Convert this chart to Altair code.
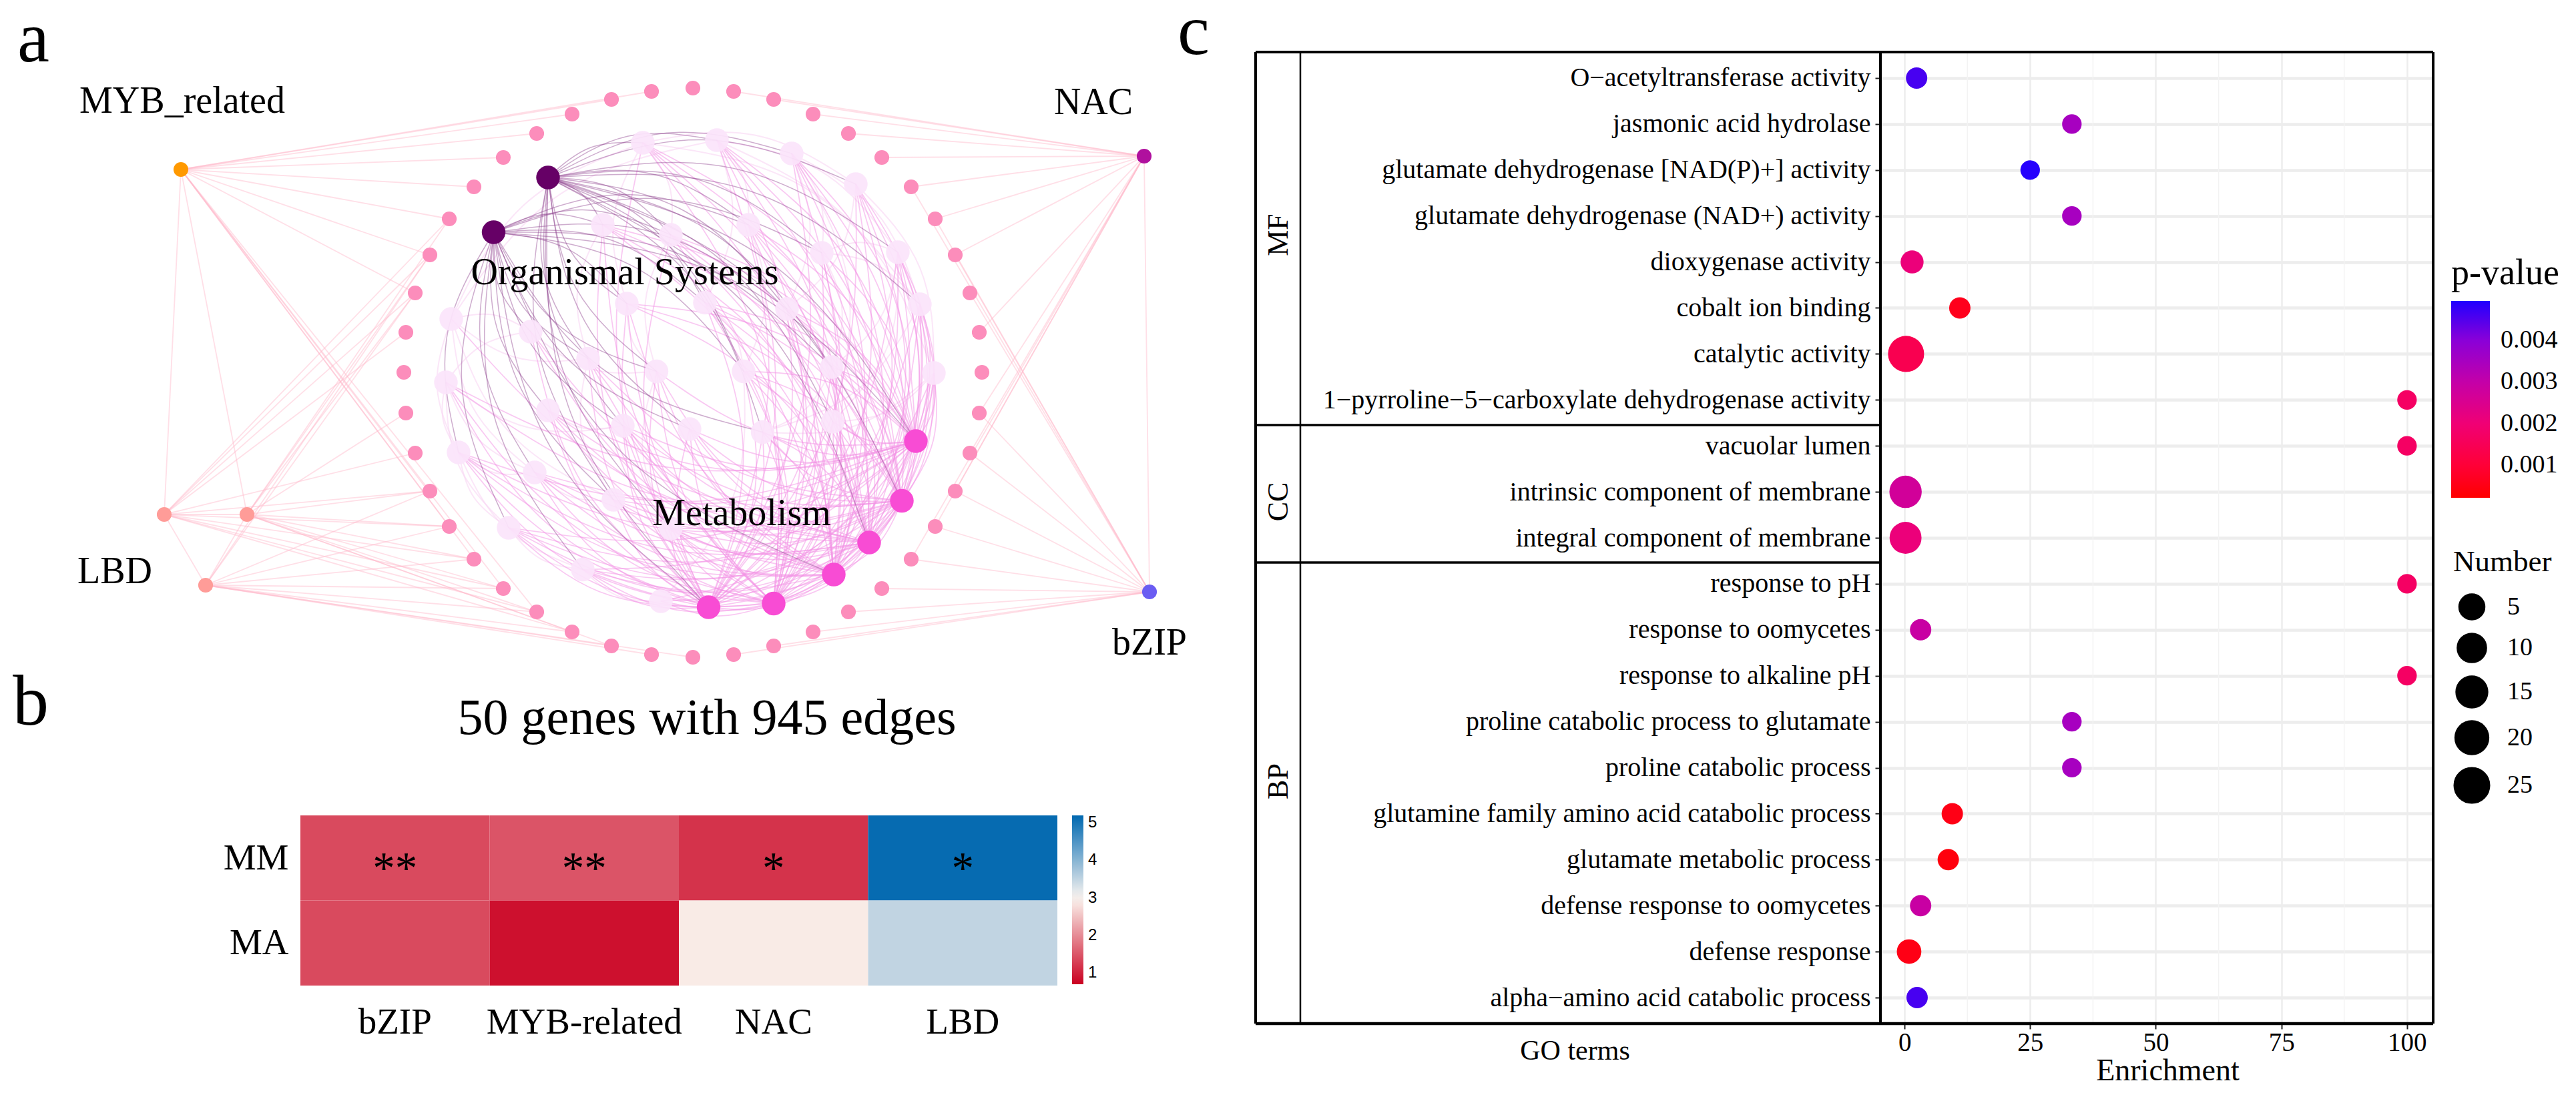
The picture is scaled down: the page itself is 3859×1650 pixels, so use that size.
import altair as alt
import pandas as pd

SERIF = "Liberation Serif"

# ---------- panel a: network, positions ----------
ring_x = [1038, 976, 916, 857, 804, 754, 710, 673, 644, 622, 608, 605, 608, 622, 644, 673, 710, 754, 804, 857, 916, 976,
          1038, 1099, 1159, 1218, 1271, 1321, 1365, 1401, 1431, 1453, 1467, 1471, 1467, 1453, 1431, 1401, 1365, 1321, 1271, 1218, 1159, 1099]
ring_y = [132, 137, 149, 171, 200, 236, 280, 328, 382, 439, 498, 558, 619, 679, 736, 789, 838, 882, 917, 947, 968, 981,
          985, 981, 968, 947, 917, 882, 838, 789, 736, 679, 619, 558, 498, 439, 382, 328, 280, 236, 200, 171, 149, 137]
tf_names = ["MYB", "LBD1", "LBD2", "LBD3", "NAC", "bZIP"]
tf_x = [271, 246, 370, 308, 1714, 1722]
tf_y = [254, 771, 771, 877, 234, 887]
tf_colors = ["#ff9900", "#ff9c98", "#ff9c98", "#ff9c98", "#b0109e", "#6a5cf2"]
dark_x = [821, 739.5]
dark_y = [266, 348]
mag_x = [1372, 1351, 1302, 1249, 1159, 1061.5]
mag_y = [661, 750.5, 813, 861, 904.5, 910]
light_x = [963, 1074, 1186, 1282, 1345, 1378, 1399, 1247.5, 1142.5, 1033, 933, 821, 801, 687, 668, 676, 795,
           903, 1005, 1121, 1231, 1179, 1056, 939, 881, 983.5, 1114, 1246, 919, 762, 873, 990, 1005]
light_y = [214, 210, 230, 276, 378, 456, 559, 632, 647.6, 643, 638, 615, 708, 678, 573, 478, 497,
           337, 352, 337, 379, 463, 453.5, 455, 537.5, 556.5, 556.5, 550, 749, 791, 853.5, 901, 792]

# ring neighbours of each transcription factor (indices into ring_*)
tf_targets = {
    "MYB": [1, 2, 3, 4, 5, 6, 7, 8, 9, 14, 15, 16, 17, 18],
    "LBD1": [7, 8, 9, 10, 13, 14, 15, 16, 17, 18, 19],
    "LBD2": [7, 8, 9, 12, 14, 15, 16, 17, 18, 19, 20],
    "LBD3": [8, 9, 14, 15, 16, 17, 18, 19, 20, 21, 22],
    "NAC": [43, 42, 41, 40, 39, 38, 37, 36, 34, 32, 31, 30, 29, 28],
    "bZIP": [23, 24, 25, 26, 27, 28, 29, 30, 31, 32, 35, 36, 37, 38],
}
tf_extra = [("MYB", "LBD1"), ("MYB", "LBD2"), ("LBD1", "LBD2"), ("LBD1", "LBD3"), ("LBD2", "LBD3"), ("NAC", "bZIP")]

dark_edges = {
    0: [0, 1, 2, 3, 4, 5, 7, 8, 9, 17, 18, 19, 20, 21, 22, 23, 24, 25, 26, 27, 10, 28, 32],
    1: [11, 12, 13, 16, 17, 18, 19, 20, 21, 22, 23, 24, 25, 26, 28, 29, 30, 10, 9, 8, 27],
}
dark_mag = {0: [0, 1, 2, 5], 1: [0, 3, 5]}
mag_edges = {
    0: [0, 1, 2, 3, 4, 5, 6, 7, 8, 9, 10, 11, 12, 13, 14, 17, 18, 19, 20, 21, 22, 23, 25, 26, 27, 28, 29, 30, 31, 32],
    1: [0, 1, 2, 3, 4, 5, 6, 7, 8, 9, 10, 11, 12, 13, 14, 17, 18, 19, 21, 22, 23, 24, 26, 27, 28, 29, 30, 31, 32],
    2: [0, 1, 2, 3, 4, 5, 6, 7, 8, 9, 10, 11, 12, 13, 15, 16, 17, 18, 19, 22, 23, 24, 25, 26, 27, 28, 29, 30, 32],
    3: [0, 1, 2, 3, 4, 5, 6, 7, 8, 9, 10, 11, 12, 13, 16, 17, 18, 19, 20, 21, 22, 23, 24, 25, 26, 27, 28, 29, 30, 31, 32],
    4: [0, 1, 2, 3, 4, 5, 6, 7, 8, 9, 10, 12, 13, 14, 17, 18, 19, 20, 21, 22, 23, 24, 25, 26, 27, 28, 29, 30, 31, 32],
    5: [0, 1, 2, 3, 4, 5, 6, 7, 8, 9, 10, 11, 12, 13, 14, 16, 17, 18, 19, 20, 21, 22, 23, 24, 25, 26, 27, 28, 29, 30, 32],
}
mag_mag = [(0, 2), (0, 3), (0, 4), (0, 5), (1, 3), (1, 4), (1, 5), (2, 4), (2, 5), (3, 5)]
light_pairs = [(0, 3), (0, 5), (1, 4), (1, 6), (2, 5), (2, 7), (3, 6), (3, 21), (4, 7), (4, 27), (5, 8), (6, 8), (14, 10),
               (14, 13), (15, 13), (15, 12), (15, 28), (13, 29), (14, 29), (16, 25), (17, 24), (18, 25), (19, 26),
               (20, 27), (21, 27), (22, 26), (23, 25), (24, 28), (25, 32), (26, 31), (27, 8), (29, 30), (30, 31),
               (12, 28), (11, 10), (0, 18), (1, 19), (2, 20), (14, 16), (13, 12), (0, 23), (1, 22), (2, 21), (15, 16),
               (15, 24), (14, 12), (13, 30), (0, 15), (1, 15), (6, 7), (5, 20), (4, 20)]

panel_letters = ["a", "b", "c"]
letter_x = [50, 46, 1788]
letter_y = [60, 1054, 49]
net_labels = ["MYB_related", "NAC", "LBD", "bZIP", "Organismal Systems", "Metabolism", "50 genes with 945 edges"]
net_label_x = [273, 1638, 172, 1722, 936, 1111, 1059]
net_label_y = [152, 154, 857, 964, 409, 770, 1077]
net_label_size = [56, 56, 56, 56, 56, 56, 76]

CX, CY = 1038, 558
PLOT_L, PLOT_R, PLOT_T, PLOT_B = 450, 1858, 78, 1477
TOP_ANCHOR = -100  # bounds of the tallest text, paid back by the negative top padding


def curved(edges, k):
    rows = []
    for eid, (x0, y0, x1, y1) in enumerate(edges):
        dx, dy = x1 - x0, y1 - y0
        mx, my = (x0 + x1) / 2, (y0 + y1) / 2
        px, py = -dy * k, dx * k
        if px * (mx - CX) + py * (my - CY) < 0:
            px, py = -px, -py
        rows += [dict(edge=eid, pt=0, x=x0, y=y0), dict(edge=eid, pt=1, x=mx + px, y=my + py), dict(edge=eid, pt=2, x=x1, y=y1)]
    return pd.DataFrame(rows)


X = alt.X("x:Q", axis=None, scale=alt.Scale(domain=[PLOT_L, PLOT_R], nice=False, zero=False))
Y = alt.Y("y:Q", axis=None, scale=alt.Scale(domain=[PLOT_B, PLOT_T], nice=False, zero=False))

tf_pos = {n: (x, y) for n, x, y in zip(tf_names, tf_x, tf_y)}
tf_rows = []
for n, targets in tf_targets.items():
    for t in targets:
        tf_rows.append((tf_pos[n][0], tf_pos[n][1], ring_x[t], ring_y[t]))
for a_, b_ in tf_extra:
    tf_rows.append((*tf_pos[a_], *tf_pos[b_]))
tf_df = pd.DataFrame([dict(edge=i, pt=p, x=r[2 * p], y=r[2 * p + 1]) for i, r in enumerate(tf_rows) for p in (0, 1)])

light_e = [(light_x[a_], light_y[a_], light_x[b_], light_y[b_]) for a_, b_ in light_pairs]
mag_e = [(mag_x[m], mag_y[m], light_x[t], light_y[t]) for m, ts in mag_edges.items() for t in ts]
mag_e += [(mag_x[a_], mag_y[a_], mag_x[b_], mag_y[b_]) for a_, b_ in mag_mag]
dark_e = [(dark_x[d], dark_y[d], light_x[t], light_y[t]) for d, ts in dark_edges.items() for t in ts]
dark_e += [(dark_x[d], dark_y[d], mag_x[t], mag_y[t]) for d, ts in dark_mag.items() for t in ts]


def edge_layer(df, color, width, opacity, interp):
    return alt.Chart(df).mark_line(color=color, strokeWidth=width, opacity=opacity, interpolate=interp).encode(
        x=X, y=Y, detail="edge:N", order="pt:Q")


def node_layer(xs, ys, color, diameter, opacity=1.0):
    df = pd.DataFrame({"x": xs, "y": ys})
    return alt.Chart(df).mark_circle(color=color, size=3.1416 / 4 * diameter ** 2, opacity=opacity).encode(x=X, y=Y)


tf_nodes = alt.Chart(pd.DataFrame({"x": tf_x, "y": tf_y, "c": tf_colors})).mark_circle(
    size=3.1416 / 4 * 25 ** 2, opacity=1).encode(x=X, y=Y, color=alt.Color("c:N", scale=None))
net_text = alt.Chart(pd.DataFrame({"t": net_labels, "x": net_label_x, "y": net_label_y, "s": net_label_size})).mark_text(
    font=SERIF, color="black", baseline="middle", align="center").encode(
    x=X, y=Y, text="t:N", size=alt.Size("s:Q", scale=None))
letters = alt.Chart(pd.DataFrame({"t": panel_letters, "x": letter_x, "y": letter_y})).mark_text(
    font=SERIF, color="black", baseline="middle", align="center", fontSize=108).encode(x=X, y=Y, text="t:N")

network = alt.layer(
    edge_layer(tf_df, "#ffb9c9", 1.8, 0.45, "linear"),
    edge_layer(curved(light_e, 0.2), "#f8d6f4", 2, 0.6, "basis"),
    edge_layer(curved(mag_e, 0.18), "#f392e6", 1.7, 0.5, "basis"),
    edge_layer(curved(dark_e, 0.2), "#8b3c8b", 1.5, 0.42, "basis"),
    node_layer(ring_x, ring_y, "#fc8dbb", 25),
    node_layer(light_x, light_y, "#fbe4fb", 40, 0.93),
    node_layer(mag_x, mag_y, "#f84cd4", 40),
    node_layer(dark_x, dark_y, "#660066", 40),
    tf_nodes, net_text, letters,
)

# ---------- panel b: heat map ----------
heat_cols = ["bZIP", "MYB-related", "NAC", "LBD"]
heat_rows = ["MM", "MA"]
heat_mm = [1.39, 1.49, 1.18, 5.15]
heat_ma = [1.39, 0.85, 2.9, 3.5]
heat_star = ["**", "**", "*", "*"]
heat_df = pd.DataFrame({"col": heat_cols * 2, "row": ["MM"] * 4 + ["MA"] * 4, "v": heat_mm + heat_ma,
                        "star": heat_star + [""] * 4})
HW = 1134
HY0, HY1 = 1222 - PLOT_T, PLOT_B - PLOT_T
hx_scale = alt.Scale(range=[0, HW], paddingInner=0, paddingOuter=0)
hy_scale = alt.Scale(range=[HY0, HY1], paddingInner=0, paddingOuter=0)
hx = alt.X("col:N", sort=heat_cols, title=None, scale=hx_scale,
           axis=alt.Axis(labelAngle=0, labelFont=SERIF, labelFontSize=55, labelColor="black", labelLimit=600,
                         ticks=False, domain=False, labelPadding=28))
hy = alt.Y("row:N", sort=heat_rows, title=None, scale=hy_scale,
           axis=alt.Axis(labelFont=SERIF, labelFontSize=55, labelColor="black", ticks=False, domain=False, labelPadding=18))
heat = alt.Chart(heat_df).mark_rect().encode(
    x=hx, y=hy,
    color=alt.Color("v:Q", title=None, scale=alt.Scale(domain=[0.7, 2.9, 3.1, 5.2], interpolate="rgb",
                                                       range=["#ca0020", "#f9ebe6", "#eeeeee", "#0068b0"]),
                    legend=alt.Legend(orient="none", legendX=1156, legendY=HY0, gradientLength=253, gradientThickness=17,
                                      values=[1, 2, 3, 4, 5], labelFont="Liberation Sans", labelFontSize=24,
                                      labelColor="black", labelOffset=7)))
stars = alt.Chart(heat_df).mark_text(font=SERIF, fontSize=67, color="black", baseline="middle", dy=17).encode(
    x=alt.X("col:N", sort=heat_cols, title=None, scale=hx_scale, axis=None),
    y=alt.Y("row:N", sort=heat_rows, title=None, scale=hy_scale, axis=None), text="star:N")
left_anchor = alt.Chart(alt.Data(values=[{}])).mark_rule(opacity=0).encode(
    x=alt.value(-442), y=alt.value(TOP_ANCHOR), y2=alt.value(TOP_ANCHOR + 10))

panel_left = alt.layer(network, heat, stars, left_anchor).resolve_scale(
    x="independent", y="independent", color="independent", size="independent").properties(
    width=PLOT_R - PLOT_L, height=PLOT_B - PLOT_T)

# ---------- panel c: GO dot plot ----------
go_terms = ["O\u2212acetyltransferase activity", "jasmonic acid hydrolase", "glutamate dehydrogenase [NAD(P)+] activity",
            "glutamate dehydrogenase (NAD+) activity", "dioxygenase activity", "cobalt ion binding", "catalytic activity",
            "1\u2212pyrroline\u22125\u2212carboxylate dehydrogenase activity", "vacuolar lumen",
            "intrinsic component of membrane", "integral component of membrane", "response to pH", "response to oomycetes",
            "response to alkaline pH", "proline catabolic process to glutamate", "proline catabolic process",
            "glutamine family amino acid catabolic process", "glutamate metabolic process", "defense response to oomycetes",
            "defense response", "alpha\u2212amino acid catabolic process"]
go_enrich = [2.4, 33.3, 25, 33.3, 1.5, 11, 0.3, 100, 100, 0.2, 0.2, 100, 3.2, 100, 33.3, 33.3, 9.5, 8.7, 3.2, 0.9, 2.5]
go_p = [0.0046, 0.0035, 0.0049, 0.0035, 0.0021, 0.0006, 0.0014, 0.0017, 0.0017, 0.0027, 0.0021, 0.0017, 0.0029, 0.0017,
        0.0035, 0.0035, 0.0005, 0.0004, 0.0029, 0.0005, 0.0046]
go_n = [2, 1, 1, 1, 3, 2, 26, 1, 1, 16, 15, 1, 2, 1, 1, 1, 2, 2, 2, 4, 2]
minor_x = [12.5, 37.5, 62.5, 87.5]
go_df = pd.DataFrame({"term": go_terms, "enrich": go_enrich, "p": go_p, "n": go_n})

cx = alt.X("enrich:Q", scale=alt.Scale(domain=[-4.8, 105.2], nice=False, zero=False),
           axis=alt.Axis(values=[0, 25, 50, 75, 100], grid=True, gridColor="#ededed", gridWidth=2.5, domain=False,
                         tickSize=8, tickWidth=2, tickColor="#222222", labelFont=SERIF, labelFontSize=39, labelColor="black",
                         labelPadding=1, title="Enrichment", titleFont=SERIF, titleFontSize=46, titleFontWeight="normal",
                         titleColor="black", titleX=430, titleY=70, titleBaseline="middle"))
cy = alt.Y("term:N", sort=go_terms, title=None, scale=alt.Scale(type="point", padding=0.566),
           axis=alt.Axis(grid=True, gridColor="#ededed", gridWidth=4.5, domain=False, tickSize=8, tickWidth=2,
                         tickColor="#222222", labelFont=SERIF, labelFontSize=40, labelColor="black", labelPadding=7,
                         labelLimit=1200))
minor = alt.Chart(pd.DataFrame({"enrich": minor_x})).mark_rule(color="#f3f3f3", strokeWidth=1.5).encode(x=cx)
dots = alt.Chart(go_df).mark_circle(opacity=1).encode(
    x=cx, y=cy,
    color=alt.Color("p:Q", title="p-value",
                    scale=alt.Scale(domain=[0.00021, 0.001, 0.002, 0.003, 0.004, 0.00495],
                                    range=["#ff0000", "#ff0038", "#f00075", "#c400a8", "#8a00d8", "#2000ff"], interpolate="rgb"),
                    legend=alt.Legend(orient="none", legendX=855, legendY=305, gradientLength=295, gradientThickness=58,
                                      values=[0.001, 0.002, 0.003, 0.004], format=".3f", labelFont=SERIF, labelFontSize=38,
                                      labelColor="black", labelOffset=16, titleFont=SERIF, titleFontSize=54,
                                      titleFontWeight="normal", titleColor="black", titlePadding=14)),
    size=alt.Size("n:Q", title="Number",
                  scale=alt.Scale(domain=[1, 5, 10, 15, 20, 25, 26], range=[855, 1521, 1948, 2290, 2579, 2865, 2922]),
                  legend=alt.Legend(orient="none", legendX=858, legendY=742, values=[5, 10, 15, 20, 25], symbolType="circle",
                                    symbolFillColor="black", symbolStrokeColor="black", symbolOpacity=1, labelFont=SERIF,
                                    labelFontSize=38, labelColor="black", labelOffset=25, rowPadding=13, titleFont=SERIF,
                                    titleFontSize=45, titleFontWeight="normal", titleColor="black", titlePadding=24)),
)


def frame(x1, x2, y1, y2, w, color="black"):
    return alt.Chart(alt.Data(values=[{}])).mark_rule(color=color, strokeWidth=w).encode(
        x=alt.value(x1), x2=alt.value(x2), y=alt.value(y1), y2=alt.value(y2))


def strip(label, y):
    return alt.Chart(alt.Data(values=[{}])).mark_text(text=label, font=SERIF, fontSize=44, angle=270, color="black",
                                                      align="center", baseline="middle").encode(
        x=alt.value(-901), y=alt.value(y))


frames = [frame(-936, 828, 0, 0, 4), frame(-936, 828, 1456, 1456, 4.5), frame(-936, -936, 0, 1456, 4),
          frame(-869, -869, 0, 1456, 2.5), frame(0, 0, 0, 1456, 4), frame(828, 828, 0, 1456, 4),
          frame(-936, 0, 559, 559, 3.5), frame(-936, 0, 765, 765, 3.5)]
# white tick marks on the p-value colour bar
bar_ticks = []
for ty in [433, 495, 558, 620]:
    bar_ticks += [frame(855, 867, ty, ty, 2, "#ffdcff"), frame(901, 913, ty, ty, 2, "#ffdcff")]
strips = [strip("MF", 274), strip("CC", 674), strip("BP", 1093)]
go_label = alt.Chart(alt.Data(values=[{}])).mark_text(text="GO terms", font=SERIF, fontSize=42, color="black",
                                                      align="center", baseline="middle").encode(
    x=alt.value(-457.5), y=alt.value(1497))
c_anchor = alt.Chart(alt.Data(values=[{}])).mark_rule(opacity=0).encode(
    x=alt.value(0), y=alt.value(TOP_ANCHOR), y2=alt.value(TOP_ANCHOR + 10))

panel_c = alt.layer(minor, dots, *frames, *bar_ticks, *strips, go_label, c_anchor).resolve_scale(
    color="independent", size="independent").properties(width=828, height=1456)

chart = alt.hconcat(panel_left, panel_c, spacing=20).configure_view(stroke=None).properties(
    padding={"left": 0, "top": PLOT_T + TOP_ANCHOR - 8, "right": 0, "bottom": 0}, background="white")

chart.save("out.html", embed_options={"renderer": "svg", "actions": False})
